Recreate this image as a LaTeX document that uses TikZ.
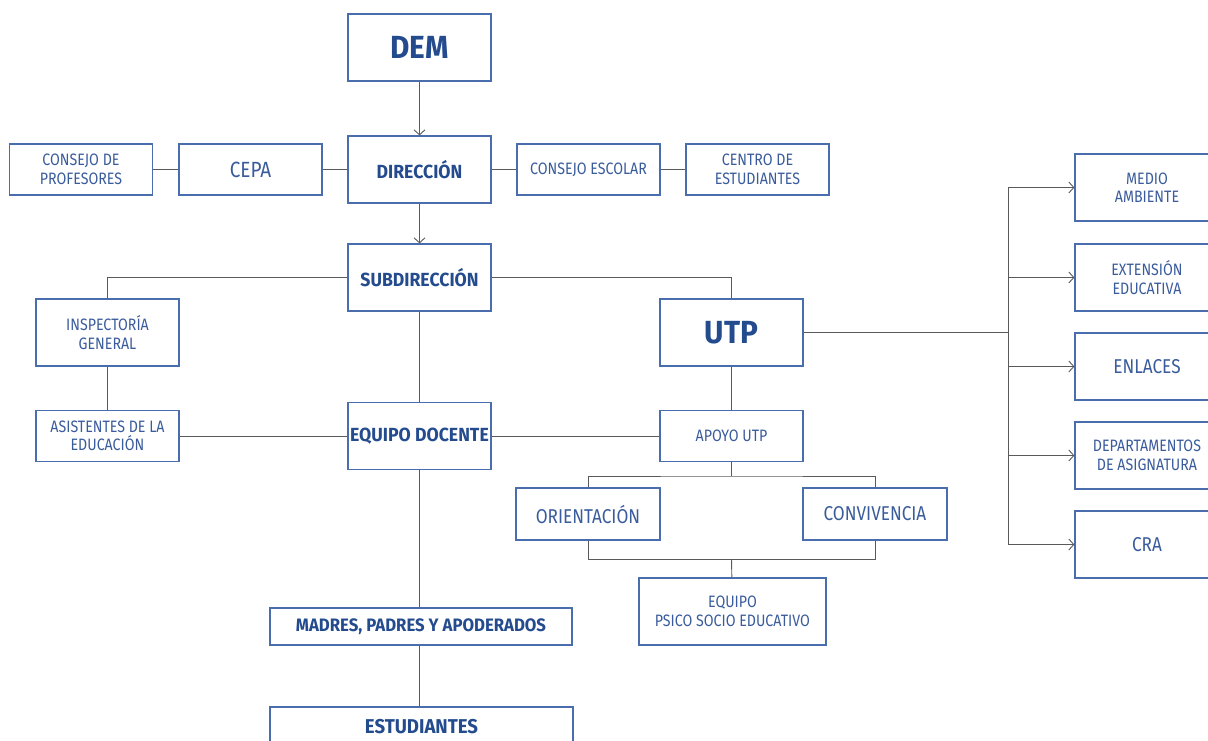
\documentclass[tikz,border=0pt]{standalone}
\usepackage{fontspec}
\setmainfont{Fira Sans}[FakeStretch=0.86,BoldFeatures={FakeStretch=0.93}]
\usetikzlibrary{arrows,arrows.meta,shapes,positioning}
\definecolor{boxblue}{HTML}{4A6DAE}
\definecolor{txtblue}{HTML}{3A5C9C}
\definecolor{headblue}{HTML}{234B8E}
\definecolor{linegray}{HTML}{5A5A5A}

\begin{document}
\begin{tikzpicture}[x=1pt,y=-1pt,
  unit/.style={draw=boxblue,line width=1.2pt,fill=white,text=txtblue,align=center,
    inner sep=0pt,minimum width=143pt,minimum height=51pt,
    font=\fontsize{16.5}{18.5}\selectfont},
  head/.style={unit,text=headblue,font=\bfseries\fontsize{19}{21}\selectfont},
  tall/.style={minimum height=67pt},
  link/.style={draw=linegray,line width=0.9pt},
  tip/.style={-{Straight Barb[length=5pt,width=11pt]}}]
\useasboundingbox (0,0) rectangle (1208,740);
\clip (0,0) rectangle (1208,740);

%center column
\node[head,tall,font=\bfseries\fontsize{32}{34}\selectfont] (dem) at (419.5,47.5) {DEM};
\node[head,tall] (dir) at (419.5,169.5) {DIRECCIÓN};
\node[head,tall] (subdir) at (419.5,277.5) {SUBDIRECCIÓN};
\node[head,tall] (docente) at (419.5,436) {EQUIPO DOCENTE};
\node[head,minimum width=302pt,minimum height=37pt,font=\bfseries\fontsize{18}{20}\selectfont] (madres) at (421,626.5) {MADRES, PADRES Y APODERADOS};
\node[head,minimum width=303pt,minimum height=40pt,font=\bfseries\fontsize{20}{22}\selectfont] (estud) at (421.5,727) {ESTUDIANTES};

%councils
\node[unit] (profes) at (81,169.5) {CONSEJO DE\\PROFESORES};
\node[unit,font=\fontsize{22}{24}\selectfont] (cepa) at (250.5,169.5) {CEPA};
\node[unit] (escolar) at (588.5,169.5) {CONSEJO ESCOLAR};
\node[unit] (centro) at (757.5,169.5) {CENTRO DE\\ESTUDIANTES};

%left branch
\node[unit,tall] (inspec) at (107.5,332.5) {INSPECTORÍA\\GENERAL};
\node[unit] (asist) at (107.5,436) {ASISTENTES DE LA\\EDUCACIÓN};

%UTP
\node[head,tall,font=\bfseries\fontsize{32}{34}\selectfont] (utp) at (731.5,332.5) {UTP};
\node[unit] (apoyo) at (731.5,436) {APOYO UTP};
\node[unit,minimum width=144pt,minimum height=52pt,font=\fontsize{20}{22}\selectfont] (orient) at (588,514) {ORIENTACIÓN};
\node[unit,minimum width=144pt,minimum height=52pt,font=\fontsize{20}{22}\selectfont] (conviv) at (875,514) {CONVIVENCIA};
\node[unit,tall,minimum width=187pt] (psico) at (732.5,611.5) {EQUIPO\\PSICO SOCIO EDUCATIVO};

%right column
\node[unit,tall,minimum width=144pt] (medio) at (1147,187.5) {MEDIO\\AMBIENTE};
\node[unit,tall,minimum width=144pt] (extension) at (1147,277.5) {EXTENSIÓN\\EDUCATIVA};
\node[unit,tall,minimum width=144pt,font=\fontsize{20}{22}\selectfont] (enlaces) at (1147,366.5) {ENLACES};
\node[unit,tall,minimum width=144pt] (depto) at (1147,455.5) {DEPARTAMENTOS\\DE ASIGNATURA};
\node[unit,tall,minimum width=144pt,font=\fontsize{20}{22}\selectfont] (cra) at (1147,544.5) {CRA};

%links
\draw[link,tip] (dem) -- (dir);
\draw[link,tip] (dir) -- (subdir);
\draw[link] (profes) -- (cepa) -- (dir) -- (escolar) -- (centro);
\draw[link] (subdir.west) -| (inspec.north);
\draw[link] (subdir.east) -| (utp.north);
\draw[link] (subdir) -- (docente);
\draw[link] (inspec) -- (asist);
\draw[link] (asist) -- (docente) -- (apoyo);
\draw[link] (utp) -- (apoyo);
\draw[link] (docente.south) -- (docente.south |- madres.north);
\draw[link] (madres.south -| docente.south) -- (estud.north -| docente.south);

\coordinate (hub) at (1008,332.5);
\draw[link] (utp) -- (hub);
\draw[link] (hub |- medio) -- (hub |- cra);
\foreach \b in {medio,extension,enlaces,depto,cra}
  \draw[link,tip] (hub |- \b) -- (\b);

\coordinate (split) at (731.5,476);
\coordinate (join) at (731.5,559);
\draw[link] (apoyo) -- (split);
\draw[link] (orient.north) |- (split) -| (conviv.north);
\draw[link] (orient.south) |- (join) -| (conviv.south);
\draw[link] (join) -- (psico);
\end{tikzpicture}
\end{document}
